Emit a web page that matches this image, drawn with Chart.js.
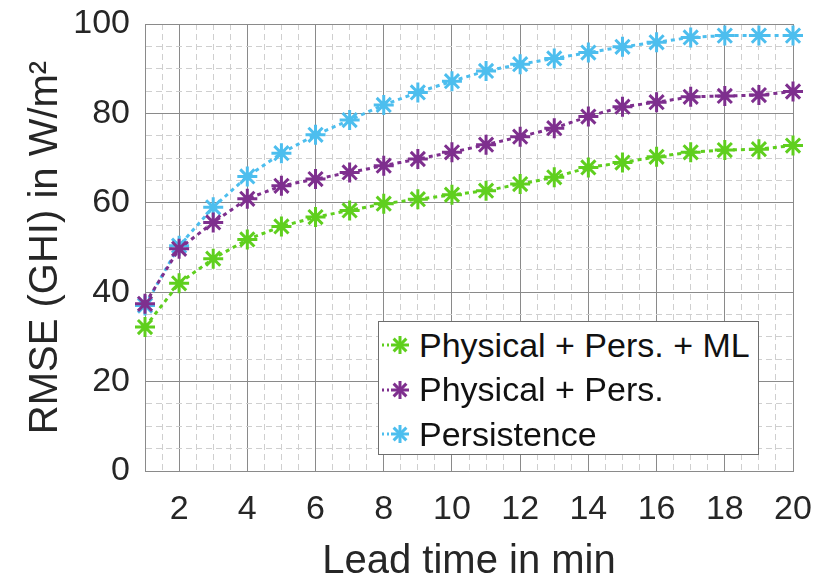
<!DOCTYPE html>
<html>
<head>
<meta charset="utf-8">
<script src="https://cdn.jsdelivr.net/npm/chart.js@4"></script>
<style>
  html, body { margin: 0; padding: 0; background: #fff; }
  #wrap { position: relative; width: 816px; height: 577px; }
  #legend {
    position: absolute; left: 378px; top: 321px; width: 379px; height: 132px;
    background: #fff; border: 1px solid #6e6e6e;
    font-family: "Liberation Sans", Arial, sans-serif; font-size: 34px; color: #111;
  }
  .row { position: absolute; left: 0; height: 44px; display: flex; align-items: center; white-space: nowrap; }
  .row svg { flex: none; }
</style>
</head>
<body>
<div id="wrap">
  <canvas id="chart" width="816" height="577"></canvas>
  <div id="legend"></div>
</div>
<script>
// lead time in minutes
const leadTimes = [1, 2, 3, 4, 5, 6, 7, 8, 9, 10, 11, 12, 13, 14, 15, 16, 17, 18, 19, 20];
const xTickLabels = [2, 4, 6, 8, 10, 12, 14, 16, 18, 20];
const yTickLabels = [0, 20, 40, 60, 80, 100];

// RMSE (GHI) in W/m2
const physPersML = [32.2, 42.0, 47.5, 51.8, 54.7, 56.8, 58.3, 59.8, 60.8, 61.8, 62.7, 64.2, 65.7, 67.9, 69.0, 70.3, 71.3, 71.8, 72.0, 72.8];
const physPers = [37.4, 49.7, 55.6, 60.9, 63.8, 65.3, 66.8, 68.3, 69.8, 71.3, 73.0, 74.8, 76.7, 79.3, 81.5, 82.5, 83.7, 83.9, 84.1, 84.9];
const persistence = [37.0, 50.4, 59.0, 65.9, 71.1, 75.2, 78.5, 81.9, 84.7, 87.2, 89.5, 91.0, 92.3, 93.6, 94.9, 95.9, 97.0, 97.4, 97.4, 97.4];

const seriesNames = ['Physical + Pers. + ML', 'Physical + Pers.', 'Persistence'];
const seriesColors = ['#5fcf1e', '#7e2f8e', '#4dbeee'];
const seriesValues = [physPersML, physPers, persistence];

const FONT = '"Liberation Sans", Arial, sans-serif';
const TEXT = '#262626';
const MAJOR = '#8a8a8a';
const MINOR = '#cfcfcf';

function isMajor(ctx, labels) {
  return ctx.tick && labels.includes(ctx.tick.value);
}

const datasets = seriesValues.map((vals, i) => ({
  label: seriesNames[i],
  data: vals.map((v, j) => ({ x: leadTimes[j], y: v })),
  borderColor: seriesColors[i],
  backgroundColor: seriesColors[i],
  borderWidth: 3,
  borderDash: [4, 4],
  pointStyle: 'star',
  pointRadius: 10,
  pointBorderWidth: 3,
  pointBorderColor: seriesColors[i],
  tension: 0,
  clip: false
}));

new Chart(document.getElementById('chart'), {
  type: 'line',
  data: { datasets },
  options: {
    responsive: false,
    animation: false,
    layout: { padding: { top: 24, right: 23, left: 0, bottom: 0 } },
    plugins: { legend: { display: false }, tooltip: { enabled: false } },
    scales: {
      x: {
        type: 'linear',
        min: 1, max: 20,
        ticks: {
          stepSize: 0.5,
          autoSkip: false,
          maxRotation: 0,
          padding: 18,
          color: TEXT,
          font: { family: FONT, size: 34 },
          callback: v => xTickLabels.includes(v) ? String(v) : ''
        },
        grid: {
          drawTicks: false,
          color: ctx => isMajor(ctx, xTickLabels) ? MAJOR : MINOR,
          lineWidth: 1
        },
        border: {
          color: MAJOR,
          dash: ctx => (ctx.tick && !xTickLabels.includes(ctx.tick.value)) ? [6, 4] : []
        },
        title: {
          display: true,
          text: 'Lead time in min',
          color: TEXT,
          font: { family: FONT, size: 40, lineHeight: 0.75 },
          padding: { top: 0, bottom: 0 }
        },
        afterFit: s => { s.height = 106; s.paddingLeft = 0; s.paddingRight = 0; }
      },
      y: {
        min: 0, max: 100,
        ticks: {
          stepSize: 5,
          autoSkip: false,
          padding: 15,
          color: TEXT,
          font: { family: FONT, size: 34 },
          callback: v => yTickLabels.includes(v) ? String(v) : ''
        },
        grid: {
          drawTicks: false,
          color: ctx => isMajor(ctx, yTickLabels) ? MAJOR : MINOR,
          lineWidth: 1
        },
        border: {
          color: MAJOR,
          dash: ctx => (ctx.tick && !yTickLabels.includes(ctx.tick.value)) ? [6, 4] : []
        },
        title: {
          display: true,
          text: 'RMSE (GHI) in W/m²',
          color: TEXT,
          font: { family: FONT, size: 40, lineHeight: 1 },
          padding: { top: 26, bottom: 0 }
        },
        afterFit: s => { s.width = 145; s.paddingTop = 0; s.paddingBottom = 0; }
      }
    }
  }
});

// legend box inside the plot, MATLAB style
const legend = document.getElementById('legend');
seriesNames.forEach((name, i) => {
  const row = document.createElement('div');
  row.className = 'row';
  row.style.top = (1 + i * 44.5) + 'px';
  const c = seriesColors[i];
  const r = 9, cx = 21, cy = 22;
  const d = r * Math.SQRT1_2;
  row.innerHTML =
    `<svg width="40" height="44">` +
    `<line x1="3" y1="${cy}" x2="12" y2="${cy}" stroke="${c}" stroke-width="3" stroke-dasharray="2 3"/>` +
    `<g stroke="${c}" stroke-width="3">` +
    `<line x1="${cx}" y1="${cy - r}" x2="${cx}" y2="${cy + r}"/>` +
    `<line x1="${cx - r}" y1="${cy}" x2="${cx + r}" y2="${cy}"/>` +
    `<line x1="${cx - d}" y1="${cy - d}" x2="${cx + d}" y2="${cy + d}"/>` +
    `<line x1="${cx - d}" y1="${cy + d}" x2="${cx + d}" y2="${cy - d}"/>` +
    `</g></svg><span>${name}</span>`;
  legend.appendChild(row);
});
</script>
</body>
</html>
